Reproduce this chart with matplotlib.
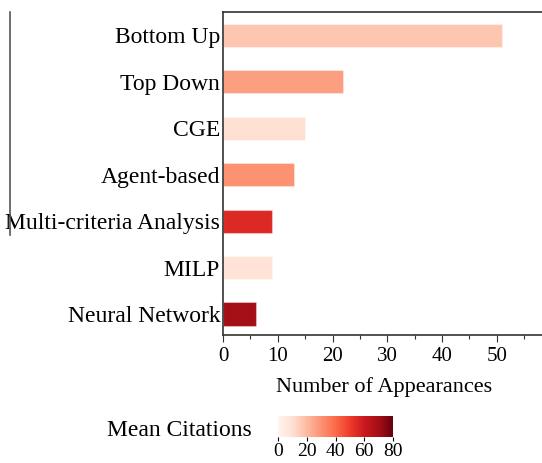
import numpy as np
import matplotlib
matplotlib.use("Agg")
import matplotlib.pyplot as plt
from matplotlib.lines import Line2D

plt.rcParams['font.family'] = ['Liberation Serif', 'DejaVu Serif']

methods = ['Bottom Up', 'Top Down', 'CGE', 'Agent-based',
           'Multi-criteria Analysis', 'MILP', 'Neural Network']
appearances = [51, 22, 15, 13, 9, 9, 6]
mean_citations = [17, 27, 10, 30, 55, 9, 70]

W, H = 542, 463
fig = plt.figure(figsize=(W/100, H/100), dpi=100)
# axes runs a little past the right edge, as in the original crop
ax = fig.add_axes([223/W, 1-335/H, (545-223)/W, (335-12)/H])

cmap = plt.get_cmap('Reds')
norm = plt.Normalize(0, 80)
cols = cmap(norm(np.array(mean_citations)))
y = np.arange(len(methods))
ax.barh(y, appearances, height=0.5, color=cols, edgecolor=(1, 1, 1, 0.35), linewidth=0.8)

ax.set_yticks(y)
ax.set_yticklabels(methods, fontsize=17)
ax.tick_params(axis='y', length=0, pad=2)
ax.set_ylim(6.45, -0.5)
ax.set_xlim(0, 58.8)
ax.set_xticks(np.arange(0, 51, 10))
ax.set_xticks(np.arange(5, 56, 10), minor=True)
ax.tick_params(axis='x', labelsize=15, direction='out', length=5, width=0.8, color='#333333')
ax.tick_params(axis='x', which='minor', length=3, width=0.8, color='#333333')
ax.set_xlabel('Number of Appearances', fontsize=16, labelpad=8)
for s in ax.spines.values():
    s.set_color('#333333')
    s.set_linewidth(1.2)
ax.spines['right'].set_visible(False)

# stray vertical line at left
fig.add_artist(Line2D([10/W, 10/W], [1-12/H, 1-235/H], color='#555555', lw=1.2))

cax = fig.add_axes([278/W, 1-437/H, (393-278)/W, (437-416)/H])
sm = plt.cm.ScalarMappable(norm=norm, cmap=cmap)
cb = fig.colorbar(sm, cax=cax, orientation='horizontal')
cb.set_ticks([0, 20, 40, 60, 80])
cb.outline.set_visible(False)
cax.tick_params(labelsize=14, length=3, width=0.8, pad=1)
fig.text(252/W, 1-430/H, 'Mean Citations', fontsize=17, ha='right', va='center')

fig.savefig('out.png', dpi=100)
